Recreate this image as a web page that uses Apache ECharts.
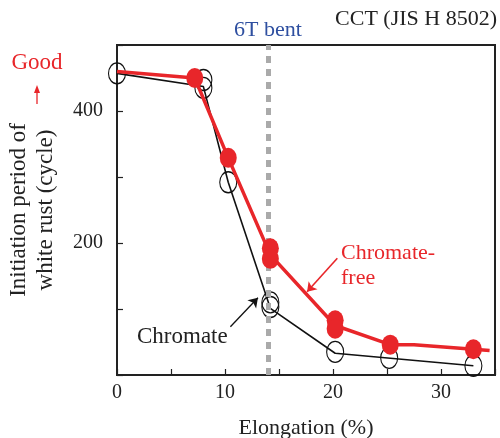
<!DOCTYPE html>
<html><head><meta charset="utf-8">
<script src="https://cdn.jsdelivr.net/npm/echarts@6/dist/echarts.min.js"></script>
<style>html,body{margin:0;padding:0;background:#fff}#c{width:500px;height:438px}</style>
</head><body><div id="c"></div>
<script>
// Data
var chromatePoints = [[0,457],[8,447],[8,435],[10.3,292],[14.2,110],[14.2,103],[20.2,35],[25.2,26],[33,14]];
var chromateLine = [[0,457],[8,437],[10.3,292],[14.2,101],[20.2,33],[33,14]];
var freePoints = [[7.2,450],[10.3,329],[14.2,192],[14.2,176],[20.2,83],[20.2,70],[25.3,46],[33,39]];
var freeLine = [[0,460],[7.2,450],[10.3,329],[14.2,182],[20.2,75],[25.3,46],[27.5,46],[33,39],[34.5,37]];
var bentX = 14;
var xTickLabels = ['0','10','20','30'];
var yTickLabels = ['200','400'];

var RED = '#e8262a';
var FONT = '"Liberation Serif", "DejaVu Serif", serif';
var chart = echarts.init(document.getElementById('c'), null, {renderer:'canvas'});
chart.setOption({
  backgroundColor:'#fff',
  animation:false,
  grid:{left:117, top:45, right:5, bottom:63, containLabel:false, outerBoundsMode:'none',
    show:true, borderColor:'#222', borderWidth:2, backgroundColor:'transparent'},
  xAxis:{type:'value', min:0, max:35, interval:5,
    axisLine:{show:false}, splitLine:{show:false},
    axisTick:{inside:true, length:6, lineStyle:{color:'#222', width:1.2}},
    axisLabel:{margin:8, color:'#222', fontFamily:FONT, fontSize:20,
      formatter:function(v){ return xTickLabels.indexOf(String(v))>=0 ? String(v) : ''; }},
    name:'Elongation (%)', nameLocation:'middle', nameGap:42,
    nameTextStyle:{color:'#222', fontFamily:FONT, fontSize:22}},
  yAxis:{type:'value', min:0, max:500, interval:100,
    axisLine:{show:false}, splitLine:{show:false},
    axisTick:{inside:true, length:6, lineStyle:{color:'#222', width:1.2}},
    axisLabel:{margin:14, color:'#222', fontFamily:FONT, fontSize:20,
      formatter:function(v){ return yTickLabels.indexOf(String(v))>=0 ? String(v) : ''; }}},
  series:[
    {type:'line', data:[], z:1,
      markLine:{silent:true, symbol:'none', label:{show:false},
        lineStyle:{color:'#aaa', width:5, type:[7,6]},
        data:[{xAxis:bentX}]}},
    {type:'line', data:chromateLine, showSymbol:false, z:3,
      lineStyle:{color:'#111', width:1.6},
      markLine:{silent:true, symbol:['none','arrow'], symbolSize:9, label:{show:false},
        lineStyle:{color:'#111', width:1.3, type:'solid'},
        data:[[{coord:[10.5,73]},{coord:[13.05,117]}]]}},
    {type:'scatter', data:chromatePoints, symbol:'circle', symbolSize:[17,21], z:4,
      itemStyle:{color:'rgba(0,0,0,0)', borderColor:'#111', borderWidth:1.2, opacity:1}},
    {type:'line', data:freeLine, showSymbol:false, z:5,
      lineStyle:{color:RED, width:3.5},
      markLine:{silent:true, symbol:['none','arrow'], symbolSize:9, label:{show:false},
        lineStyle:{color:RED, width:1.6, type:'solid'},
        data:[[{coord:[20.4,177]},{coord:[17.6,126]}]]}},
    {type:'scatter', data:freePoints, symbol:'circle', symbolSize:[17,20], z:6,
      itemStyle:{color:RED, opacity:1}}
  ],
  graphic:[
    {type:'text', x:497, y:19, style:{text:'CCT (JIS H 8502)', font:'22px '+FONT, fill:'#222', textAlign:'right', textVerticalAlign:'middle'}},
    {type:'text', x:268, y:30, style:{text:'6T bent', font:'22px '+FONT, fill:'#2e4fa0', textAlign:'center', textVerticalAlign:'middle'}},
    {type:'text', x:37, y:63, style:{text:'Good', font:'23px '+FONT, fill:RED, textAlign:'center', textVerticalAlign:'middle'}},
    {type:'line', shape:{x1:37, y1:104, x2:37, y2:88}, style:{stroke:RED, lineWidth:1.3}},
    {type:'polygon', shape:{points:[[37,85],[34,93],[40,93]]}, style:{fill:RED}},
    {type:'text', x:32, y:210, rotation:Math.PI/2, style:{text:'Initiation period of\nwhite rust (cycle)', font:'23px '+FONT, lineHeight:27, fill:'#222', textAlign:'center', textVerticalAlign:'middle'}},
    {type:'text', x:341, y:253, style:{text:'Chromate-', font:'22px '+FONT, fill:RED, textVerticalAlign:'middle'}},
    {type:'text', x:341, y:278, style:{text:'free', font:'22px '+FONT, fill:RED, textVerticalAlign:'middle'}},
    {type:'text', x:137, y:337, style:{text:'Chromate', font:'23px '+FONT, fill:'#222', textVerticalAlign:'middle'}}
  ]
});
</script></body></html>
